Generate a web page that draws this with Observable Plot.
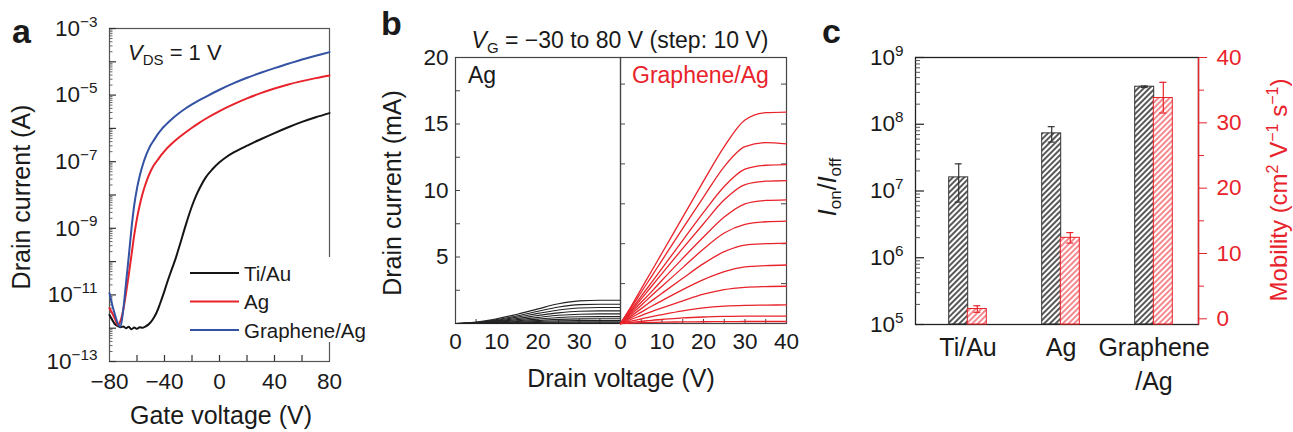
<!DOCTYPE html>
<html><head><meta charset="utf-8">
<script src="https://cdn.jsdelivr.net/npm/d3@7"></script>
<script src="https://cdn.jsdelivr.net/npm/@observablehq/plot@0.6"></script>
<style>
html,body{margin:0;padding:0;background:#fff;}
#fig{position:relative;width:1293px;height:432px;overflow:hidden;background:#fff;}
.layer{position:absolute;top:0;}
.layer svg{display:block;max-width:none;}
</style></head><body>
<svg width="0" height="0" style="position:absolute"><defs>
<pattern id="hatchK" patternUnits="userSpaceOnUse" width="4" height="4" patternTransform="rotate(45)"><rect width="4" height="4" fill="#fff"/><line x1="1" y1="0" x2="1" y2="4" stroke="#3a3a3a" stroke-width="1.7"/></pattern>
<pattern id="hatchR" patternUnits="userSpaceOnUse" width="4" height="4" patternTransform="rotate(45)"><rect width="4" height="4" fill="#fff"/><line x1="1" y1="0" x2="1" y2="4" stroke="#ef4a52" stroke-width="1.3"/></pattern>
</defs></svg>
<div id="fig"></div>
<script>
// ---------- Panel a: transfer curves (V_DS = 1 V) ----------
const tiAuV = [-80,-78,-76,-74,-72,-70,-68,-66,-64,-62,-60,-58,-56,-54,-52,-50,-48,-46,-44,-42,-40,-38,-36,-34,-32,-30,-28,-26,-24,-22,-20,-17,-14,-10,-5,0,5,10,15,20,25,30,40,50,60,70,80];
const tiAuLogI = [-11.6,-11.75,-11.88,-11.93,-11.97,-11.95,-12.0,-11.96,-12.03,-11.98,-12.02,-11.97,-11.99,-11.95,-11.9,-11.82,-11.7,-11.55,-11.35,-11.12,-10.88,-10.62,-10.38,-10.15,-9.92,-9.65,-9.38,-9.1,-8.83,-8.57,-8.33,-8.02,-7.76,-7.47,-7.22,-7.02,-6.86,-6.73,-6.62,-6.52,-6.42,-6.325,-6.14,-5.965,-5.805,-5.665,-5.54];
const agV = [-80,-78,-76,-74,-72,-70,-68,-66,-64,-62,-60,-58,-56,-54,-52,-50,-48,-45,-42,-40,-35,-30,-25,-20,-15,-10,0,10,20,30,40,50,60,70,80];
const agLogI = [-11.4,-11.55,-11.72,-11.9,-11.78,-11.45,-10.95,-10.4,-9.8,-9.2,-8.7,-8.3,-7.97,-7.7,-7.47,-7.28,-7.12,-6.95,-6.78,-6.68,-6.47,-6.29,-6.13,-5.98,-5.84,-5.71,-5.48,-5.28,-5.1,-4.94,-4.8,-4.68,-4.58,-4.49,-4.41];
const grV = [-80,-78,-76,-74,-72,-70,-68,-66,-64,-62,-60,-58,-56,-54,-52,-50,-48,-45,-42,-40,-35,-30,-25,-20,-15,-10,0,10,20,30,40,50,60,70,80];
const grLogI = [-10.95,-11.3,-11.6,-11.85,-11.95,-11.45,-10.65,-9.85,-9.0,-8.3,-7.8,-7.42,-7.12,-6.87,-6.67,-6.5,-6.37,-6.18,-6.02,-5.93,-5.73,-5.56,-5.41,-5.28,-5.16,-5.05,-4.84,-4.65,-4.48,-4.33,-4.19,-4.06,-3.93,-3.82,-3.71];
const aSeriesNames = ["Ti/Au","Ag","Graphene/Ag"];
const aSeriesColors = ["#141414","#e8232b","#3452a3"];
const aYLabelExp = [-13,-11,-9,-7,-5,-3];
const aXTicks = [-80,-40,0,40,80];

// ---------- Panel b: output curves, V_G = -30 to 80 V ----------
const drainV = [0,2.5,5,7.5,10,15,20,25,30,35,40];
const agOut = [
 [0,0.03,0.1,0.22,0.36,0.7,1.1,1.48,1.7,1.75,1.75],
 [0,0.025,0.08,0.18,0.3,0.58,0.92,1.24,1.42,1.45,1.45],
 [0,0.02,0.07,0.15,0.25,0.48,0.76,1.02,1.17,1.2,1.2],
 [0,0.015,0.055,0.12,0.2,0.38,0.6,0.8,0.92,0.95,0.95],
 [0,0.012,0.042,0.09,0.15,0.29,0.46,0.62,0.7,0.72,0.72],
 [0,0.009,0.03,0.065,0.11,0.21,0.33,0.45,0.51,0.52,0.52],
 [0,0.006,0.02,0.045,0.076,0.145,0.23,0.31,0.35,0.36,0.36],
 [0,0.004,0.013,0.029,0.049,0.093,0.147,0.2,0.225,0.23,0.23],
 [0,0.002,0.007,0.016,0.027,0.052,0.082,0.112,0.127,0.13,0.13],
 [0,0.001,0.003,0.007,0.012,0.023,0.037,0.05,0.058,0.06,0.06],
 [0,0.0004,0.001,0.0024,0.004,0.008,0.012,0.017,0.019,0.02,0.02],
 [0,0.0001,0.0003,0.0006,0.001,0.002,0.003,0.004,0.005,0.005,0.005]
];
const grOut = [
 [0,1.25,2.6,3.95,5.3,8.0,10.7,13.3,15.3,15.85,15.9],
 [0,1.15,2.35,3.55,4.75,7.15,9.5,11.8,13.3,13.6,13.5],
 [0,1.0,2.05,3.1,4.15,6.25,8.35,10.3,11.6,11.9,11.95],
 [0,0.9,1.85,2.8,3.75,5.65,7.5,9.3,10.45,10.7,10.75],
 [0,0.8,1.6,2.4,3.25,4.9,6.5,8.0,9.0,9.25,9.3],
 [0,0.68,1.38,2.1,2.8,4.2,5.6,6.8,7.45,7.65,7.7],
 [0,0.55,1.12,1.7,2.27,3.4,4.5,5.4,5.9,6.0,6.05],
 [0,0.42,0.86,1.3,1.72,2.55,3.3,3.9,4.25,4.35,4.4],
 [0,0.3,0.6,0.9,1.17,1.7,2.2,2.55,2.72,2.78,2.8],
 [0,0.17,0.35,0.52,0.67,0.95,1.17,1.3,1.36,1.38,1.4],
 [0,0.08,0.16,0.24,0.3,0.42,0.49,0.53,0.55,0.55,0.55],
 [0,0.03,0.06,0.08,0.1,0.12,0.13,0.14,0.15,0.15,0.15]
];
const bYTicks = [5,10,15,20];
const bXTicksLeft = [0,10,20,30];
const bXTicksRight = [0,10,20,30,40];

// ---------- Panel c: on/off ratio and mobility ----------
const contacts = ["Ti/Au","Ag","Graphene/Ag"];
const onOff = [1.6e7, 7.3e7, 3.65e8];
const onOffLow = [6.8e6, 5.4e7, 3.55e8];
const onOffHigh = [2.55e7, 9.2e7, 3.75e8];
const mobility = [1.5, 12.4, 33.8];
const mobilityLow = [1.0, 11.6, 31.5];
const mobilityHigh = [2.0, 13.2, 36.2];
const cYLabelExp = [5,6,7,8,9];
const cMobTicks = [0,10,20,30,40];

// ---------------------------------------------------------------
const FONT = '"Liberation Sans", Arial, Helvetica, sans-serif';
const RED = "#e8232b";
const NS = "http://www.w3.org/2000/svg";
const fig = document.getElementById("fig");
const minus = v => (v < 0 ? "\u2212" + (-v) : String(v));
const baseStyle = extra => Object.assign({fontFamily: FONT, fontSize: "22.5px", color: "#1a1a1a", background: "transparent", overflow: "visible"}, extra || {});

function place(svg, left) {
  const d = document.createElement("div");
  d.className = "layer"; d.style.left = left + "px";
  d.appendChild(svg); fig.appendChild(d);
  svg.querySelectorAll("text").forEach(t => {
    const m = /^10\^(.+)$/.exec(t.textContent);
    if (!m) return;
    t.textContent = "";
    const a = document.createElementNS(NS, "tspan"); a.textContent = "10";
    const b = document.createElementNS(NS, "tspan");
    b.setAttribute("dy", "-0.6em"); b.setAttribute("font-size", "0.68em"); b.textContent = m[1];
    t.append(a, b);
  });
}
const logMinor = (e0, e1) => d3.range(e0, e1).flatMap(e => d3.range(2, 10).map(k => k * Math.pow(10, e)));
const logMajor = (e0, e1) => d3.range(e0, e1 + 1).map(e => Math.pow(10, e));

// Panel a
{
  const series = [
    {s: aSeriesNames[0], v: tiAuV, l: tiAuLogI},
    {s: aSeriesNames[1], v: agV, l: agLogI},
    {s: aSeriesNames[2], v: grV, l: grLogI}];
  const data = series.flatMap(o => o.v.map((v, i) => ({s: o.s, v, cur: Math.pow(10, o.l[i])})));
  const W = 380, H = 432, mL = 109, mR = 51, mT = 28, mB = 71, pw = W - mL - mR, ph = H - mT - mB;
  const svg = Plot.plot({
    width: W, height: H, marginLeft: mL, marginRight: mR, marginTop: mT, marginBottom: mB,
    style: baseStyle(),
    x: {domain: [-80, 80]},
    y: {type: "log", domain: [1e-13, 1e-3]},
    color: {domain: aSeriesNames, range: aSeriesColors},
    marks: [
      Plot.frame({stroke: "#555", strokeWidth: 1.2}),
      Plot.tickY(logMajor(-13, -3), {y: d => d, insetRight: pw - 7, stroke: "#333", strokeWidth: 1.2}),
      Plot.tickY(logMinor(-13, -3), {y: d => d, insetRight: pw - 3.5, stroke: "#555", strokeWidth: 0.9}),
      Plot.tickX([-60,-40,-20,0,20,40,60], {x: d => d, insetTop: ph - 6, stroke: "#333", strokeWidth: 1.2}),
      Plot.axisY({ticks: aYLabelExp.map(e => Math.pow(10, e)), tickFormat: d => "10^" + minus(Math.round(Math.log10(d))), tickSize: 0, tickPadding: 12, label: null}),
      Plot.axisX({ticks: aXTicks, tickFormat: minus, tickSize: 0, tickPadding: 12, label: null}),
      Plot.line(data, {x: "v", y: "cur", z: "s", stroke: "s", strokeWidth: 2, curve: "monotone-x"})
    ]
  });
  place(svg, 0);
}

// Panel b
const outData = curves => curves.flatMap((c, k) => c.map((y, i) => ({k, x: drainV[i], y})));
{
  const W = 250, H = 432, mL = 75, mR = 10, mT = 57, mB = 109, pw = W - mL - mR, ph = H - mT - mB;
  const svg = Plot.plot({
    width: W, height: H, marginLeft: mL, marginRight: mR, marginTop: mT, marginBottom: mB,
    style: baseStyle(),
    x: {domain: [0, 40]}, y: {domain: [0, 20]},
    marks: [
      Plot.frame({stroke: "#444", strokeWidth: 1.2}),
      Plot.tickY(d3.range(2.5, 20, 2.5), {y: d => d, insetRight: pw - 5, stroke: "#444"}),
      Plot.tickX(d3.range(5, 40, 5), {x: d => d, insetTop: ph - 4, stroke: "#444"}),
      Plot.axisY({ticks: bYTicks, tickSize: 0, tickPadding: 7, label: null}),
      Plot.axisX({ticks: bXTicksLeft, tickSize: 0, tickPadding: 10, label: null}),
      Plot.line(outData(agOut), {x: "x", y: "y", z: "k", stroke: "#222", strokeWidth: 1.1, curve: "monotone-x"})
    ]
  });
  place(svg, 380);
}
{
  const W = 220, H = 432, mL = 20, mR = 34, mT = 57, mB = 109, pw = W - mL - mR, ph = H - mT - mB;
  const svg = Plot.plot({
    width: W, height: H, marginLeft: mL, marginRight: mR, marginTop: mT, marginBottom: mB,
    style: baseStyle(),
    x: {domain: [0, 40]}, y: {domain: [0, 20], axis: null},
    marks: [
      Plot.frame({stroke: "#444", strokeWidth: 1.2}),
      Plot.tickY(d3.range(3, 20, 3), {y: d => d, insetRight: pw - 5, stroke: "#444"}),
      Plot.tickY(d3.range(3, 20, 3), {y: d => d, insetLeft: pw - 5, stroke: "#444"}),
      Plot.tickX(d3.range(5, 40, 5), {x: d => d, insetTop: ph - 4, stroke: "#444"}),
      Plot.axisX({ticks: bXTicksRight, tickSize: 0, tickPadding: 10, label: null}),
      Plot.line(outData(grOut), {x: "x", y: "y", z: "k", stroke: RED, strokeWidth: 1.3, curve: "monotone-x"})
    ]
  });
  place(svg, 600);
}

// Panel c
{
  const data = contacts.map((c, i) => ({c, r: onOff[i], rlo: onOffLow[i], rhi: onOffHigh[i], m: mobility[i], mlo: mobilityLow[i], mhi: mobilityHigh[i]}));
  const W = 483, H = 432, mL = 105, mR = 95, mT = 57, mB = 108, pw = W - mL - mR, ph = H - mT - mB;
  const xs = {type: "band", domain: contacts, range: [110.5, 389.5], paddingInner: 0.8, paddingOuter: 0.4, align: 0.5};
  const common = {width: W, height: H, marginLeft: mL, marginRight: mR, marginTop: mT, marginBottom: mB};
  const sh = 9.3;
  const svg1 = Plot.plot({
    ...common, style: baseStyle(), x: xs,
    y: {type: "log", domain: [1e5, 1e9]},
    marks: [
      Plot.barY(data, {x: "c", y1: () => 1e5, y2: "r", dx: -sh, fill: "url(#hatchK)", stroke: "#333", strokeWidth: 1}),
      Plot.ruleX(data, {x: "c", y1: "rlo", y2: "rhi", dx: -sh, stroke: "#333", strokeWidth: 1.2}),
      Plot.tickY(data, {x: "c", y: "rhi", dx: -sh, insetLeft: 6, insetRight: 6, stroke: "#333", strokeWidth: 1.2}),
      Plot.tickY(data, {x: "c", y: "rlo", dx: -sh, insetLeft: 6, insetRight: 6, stroke: "#333", strokeWidth: 1.2}),
      Plot.frame({stroke: "#222", strokeWidth: 1.3}),
      Plot.tickY(logMajor(5, 9), {y: d => d, insetRight: pw - 9, stroke: "#222", strokeWidth: 1.2}),
      Plot.tickY(logMinor(5, 9), {y: d => d, insetRight: pw - 5, stroke: "#444", strokeWidth: 0.9}),
      Plot.axisY({ticks: cYLabelExp.map(e => Math.pow(10, e)), tickFormat: d => "10^" + Math.round(Math.log10(d)), tickSize: 0, tickPadding: 12, label: null}),
      Plot.axisX({tickFormat: d => d === "Graphene/Ag" ? "Graphene\n/Ag" : d, tickSize: 0, tickPadding: 8, fontSize: 25, lineHeight: 1.35, label: null})
    ]
  });
  place(svg1, 810);
  const yMin = -0.87;
  const svg2 = Plot.plot({
    ...common, style: baseStyle({color: RED}), x: {...xs, axis: null},
    y: {domain: [yMin, 40]},
    marks: [
      Plot.barY(data, {x: "c", y1: () => yMin, y2: "m", dx: sh, fill: "url(#hatchR)", stroke: RED, strokeWidth: 1}),
      Plot.ruleX(data, {x: "c", y1: "mlo", y2: "mhi", dx: sh, stroke: RED, strokeWidth: 1.2}),
      Plot.tickY(data, {x: "c", y: "mhi", dx: sh, insetLeft: 6, insetRight: 6, stroke: RED, strokeWidth: 1.2}),
      Plot.tickY(data, {x: "c", y: "mlo", dx: sh, insetLeft: 6, insetRight: 6, stroke: RED, strokeWidth: 1.2}),
      Plot.frame({fill: RED, stroke: null, insetLeft: pw - 0.7, insetRight: -0.7}),
      Plot.axisY({anchor: "right", ticks: cMobTicks, tickSize: 8, tickPadding: 10, label: null}),
      Plot.axisY({anchor: "right", ticks: [5,15,25,35], tickSize: 5, tickFormat: () => "", label: null})
    ]
  });
  place(svg2, 810);
}

// ---------- Annotation layer: panel letters, titles, legend ----------
{
  const ov = document.createElementNS(NS, "svg");
  ov.setAttribute("width", 1293); ov.setAttribute("height", 432);
  ov.setAttribute("style", "position:absolute;left:0;top:0;overflow:visible");
  ov.setAttribute("font-family", FONT); ov.setAttribute("font-size", "25"); ov.setAttribute("fill", "#1a1a1a");
  let html = "";
  html += `<text x="12" y="43" font-size="34" font-weight="bold">a</text>`;
  html += `<text x="381" y="35" font-size="34" font-weight="bold">b</text>`;
  html += `<text x="822" y="43" font-size="34" font-weight="bold">c</text>`;
  // panel a
  html += `<text x="128" y="60" font-size="22"><tspan font-style="italic">V</tspan><tspan font-size="15" dy="5">DS</tspan><tspan dy="-5"> = 1 V</tspan></text>`;
  html += `<text transform="translate(30,197) rotate(-90)" text-anchor="middle">Drain current (A)</text>`;
  html += `<text x="221" y="424" text-anchor="middle">Gate voltage (V)</text>`;
  html += `<rect x="184" y="257" width="190" height="85" fill="#fff"/>`;
  aSeriesNames.forEach((n, i) => {
    const y = 273 + i * 28.5;
    html += `<line x1="190" x2="239" y1="${y}" y2="${y}" stroke="${aSeriesColors[i]}" stroke-width="2"/>`;
    html += `<text x="244" y="${y + 7.5}" font-size="20.5">${n}</text>`;
  });
  // panel b
  html += `<text x="620" y="48" text-anchor="middle" font-size="23"><tspan font-style="italic">V</tspan><tspan font-size="15" dy="5">G</tspan><tspan dy="-5"> = \u221230 to 80 V (step: 10 V)</tspan></text>`;
  html += `<text x="468" y="83" font-size="23">Ag</text>`;
  html += `<text x="632" y="83" font-size="23" fill="${RED}">Graphene/Ag</text>`;
  html += `<text transform="translate(401,193) rotate(-90)" text-anchor="middle">Drain current (mA)</text>`;
  html += `<text x="621" y="387" text-anchor="middle">Drain voltage (V)</text>`;
  // panel c
  html += `<text transform="translate(836,187) rotate(-90)" text-anchor="middle"><tspan font-style="italic">I</tspan><tspan font-size="17" dy="5">on</tspan><tspan dy="-5">/</tspan><tspan font-style="italic">I</tspan><tspan font-size="17" dy="5">off</tspan></text>`;
  html += `<text transform="translate(1287,190) rotate(-90)" text-anchor="middle" font-size="24" fill="${RED}">Mobility (cm<tspan font-size="16" dy="-9">2</tspan><tspan dy="9"> V</tspan><tspan font-size="16" dy="-9">\u22121</tspan><tspan dy="9"> s</tspan><tspan font-size="16" dy="-9">\u22121</tspan><tspan dy="9">)</tspan></text>`;
  ov.innerHTML = html;
  fig.appendChild(ov);
}
</script>
</body></html>
